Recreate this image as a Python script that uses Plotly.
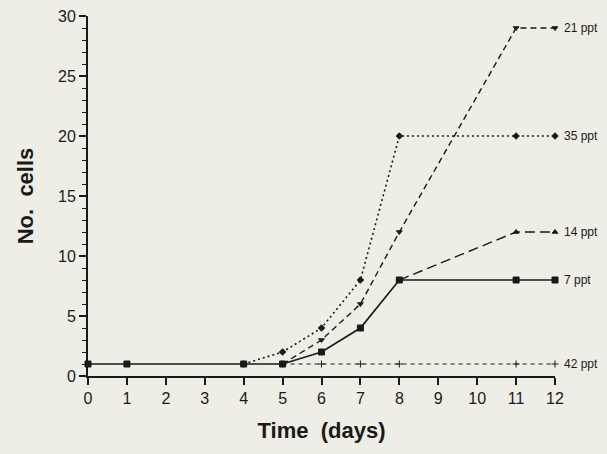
import plotly.graph_objects as go

# Data
x7 = [0, 1, 4, 5, 6, 7, 8, 11, 12]
y7 = [1, 1, 1, 1, 2, 4, 8, 8, 8]
x14 = [8, 11, 12]
y14 = [8, 12, 12]
x21 = [5, 6, 7, 8, 11, 12]
y21 = [1, 3, 6, 12, 29, 29]
x35 = [4, 5, 6, 7, 8, 11, 12]
y35 = [1, 2, 4, 8, 20, 20, 20]
x42 = [5, 6, 7, 8, 11, 12]
y42 = [1, 1, 1, 1, 1, 1]
labels = ["7 ppt", "14 ppt", "21 ppt", "35 ppt", "42 ppt"]
x_ticks = list(range(0, 13))
y_ticks = [0, 5, 10, 15, 20, 25, 30]

BG = "#eeede6"
INK = "#1a1a1a"

fig = go.Figure()

series = [
    (x7, y7, "solid", 1.7, "square", 6),
    (x14, y14, "10px,5px", 1.4, "triangle-up", 5),
    (x21, y21, "6px,4px", 1.4, "triangle-down", 5),
    (x35, y35, "2px,3px", 1.6, "diamond", 5),
    (x42, y42, "4px,4px", 1.2, "cross-thin", 5),
]
for (xs, ys, dash, w, sym, sz), name in zip(series, labels):
    fig.add_trace(go.Scatter(
        x=xs, y=ys, mode="lines+markers", name=name,
        line=dict(color=INK, width=w, dash=dash),
        marker=dict(symbol=sym, size=sz, color=INK, line=dict(color=INK, width=1)),
        cliponaxis=False, showlegend=False,
    ))
    fig.add_annotation(x=xs[-1], y=ys[-1], text=name, showarrow=False,
                       xanchor="left", yanchor="middle", xshift=7,
                       font=dict(family="Liberation Sans, Arial", size=12, color=INK))

fig.update_layout(
    width=607, height=454,
    margin=dict(l=88, r=52, t=16, b=78),
    paper_bgcolor=BG, plot_bgcolor=BG,
    font=dict(family="Liberation Sans, Arial", color=INK, size=16),
)
fig.update_xaxes(
    range=[0, 12], tickvals=x_ticks, ticktext=[str(v) for v in x_ticks],
    ticks="outside", ticklen=7, tickwidth=1.6, tickcolor=INK,
    showline=True, linecolor=INK, linewidth=2, showgrid=False, zeroline=False,
    tickfont=dict(size=16), automargin=False,
    title=dict(text="<b>Time  (days)</b>", font=dict(size=22), standoff=16),
)
fig.update_yaxes(
    range=[0, 30], tickvals=y_ticks, ticktext=[str(v) for v in y_ticks],
    ticks="outside", ticklen=7, tickwidth=1.6, tickcolor=INK,
    minor=dict(tickmode="linear", tick0=0, dtick=1, ticks="outside",
               ticklen=4, tickcolor=INK, tickwidth=1.2, showgrid=False),
    showline=True, linecolor=INK, linewidth=2, showgrid=False, zeroline=False,
    tickfont=dict(size=16), automargin=False,
    title=dict(text="<b>No.  cells</b>", font=dict(size=22), standoff=18),
)

fig.write_html(
    "out.html",
    config={"displayModeBar": False},
    post_script="document.body.style.margin='0';document.body.style.padding='0';"
                "document.body.style.background='#eeede6';",
)
